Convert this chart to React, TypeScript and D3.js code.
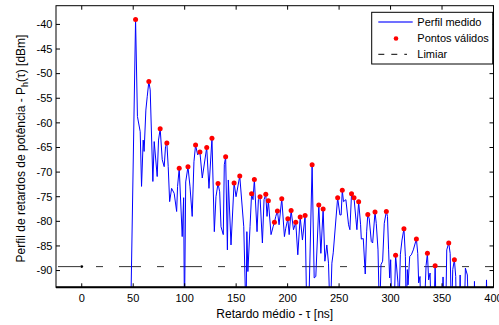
import React from "react";
import * as d3 from "d3";

// Measured power delay profile (delay in ns, power in dBm); -100 = below the visible range
const profileDelay = [
  47.5, 52.3, 54.1, 56.8, 58.1, 59.7, 60.6, 62.3, 63.6, 65.2, 66.5, 69.1, 70.4, 73.3, 74.6, 76.2,
  78.2, 80.1, 81.4, 82.7, 84.0, 85.4, 87.3, 89.8, 92.2, 93.1, 94.7, 97.6, 99.0, 99.8, 101.0, 103.2,
  105.2, 107.3, 109.0, 110.6, 112.6, 114.8, 117.1, 121.4, 123.6, 126.5, 128.8, 130.4, 132.4, 134.0,
  135.3, 137.5, 138.5, 139.8, 141.5, 142.4, 145.0, 148.0, 149.9, 153.5, 157.4, 159.6, 160.4, 161.4,
  163.5, 165.0, 166.4, 167.7, 170.3, 171.6, 173.2, 175.5, 177.1, 178.8, 180.0, 181.3, 183.9, 185.9,
  187.2, 188.5, 190.1, 191.7, 194.3, 196.9, 198.2, 200.2, 201.5, 203.4, 205.7, 207.9, 209.9, 212.2,
  214.4, 217.0, 218.7, 220.3, 223.8, 225.8, 227.4, 230.3, 232.3, 234.5, 236.2, 238.1, 239.7, 241.4,
  243.0, 244.3, 248.6, 250.8, 252.0, 253.1, 254.3, 256.6, 259.2, 260.5, 262.1, 264.5, 266.4, 267.3,
  269.0, 270.9, 271.6, 273.5, 275.4, 276.8, 277.9, 279.3, 281.3, 282.6, 284.9, 286.1, 287.8, 289.3,
  290.7, 292.3, 293.9, 295.9, 297.0, 298.1, 299.1, 300.1, 301.4, 303.2, 304.9, 307.2, 308.0, 309.5,
  311.1, 313.0, 314.4, 315.3, 316.3, 317.0, 318.6, 320.2, 322.1, 325.1, 326.4, 327.3, 328.6, 329.5,
  332.5, 334.5, 335.8, 337.0, 338.4, 339.5, 342.0, 343.3, 344.5, 349.5, 351.0, 352.2, 353.5, 354.6,
  356.5, 357.9, 359.2, 360.4, 362.0, 363.3, 364.0, 366.8, 367.6, 368.4, 371.5, 372.7, 374.6, 375.8,
  380.8, 381.5, 382.2, 392.5, 393.2, 394.0, 400.0,
];
const profilePower = [
  -100, -39.0, -58.7, -61.8, -72.9, -63.5, -65.8, -57.4, -54.7, -51.6, -53.3, -71.9, -63.8, -70.9, -63.5, -61.2,
  -67.5, -68.9, -64.8, -64.1, -68.9, -76.0, -73.3, -74.3, -78.0, -72.9, -69.2, -83.1, -75.2, -100, -72.0, -68.9,
  -73.0, -79.0, -67.9, -64.5, -66.5, -65.9, -71.2, -65.0, -73.3, -63.1, -82.1, -75.0, -72.3, -74.0,
  -81.1, -82.7, -68.5, -66.9, -85.8, -71.6, -84.8, -72.2, -75.0, -70.8, -81.1, -100, -82.1, -90.2,
  -81.1, -74.4, -75.6, -71.5, -82.1, -75.6, -75.0, -84.4, -75.6, -74.5, -79.0, -75.8, -82.7, -81.1,
  -80.2, -79.0, -77.9, -80.7, -75.4, -83.1, -81.4, -79.5, -82.7, -77.8, -81.7, -80.2, -86.8, -79.1,
  -83.8, -78.8, -100, -100, -68.5, -91.5, -91.2, -76.7, -86.5, -77.5, -88.1, -84.8, -88.5, -100,
  -88.5, -86.4, -75.2, -78.7, -78.7, -73.7, -76.0, -75.6, -80.7, -81.7, -74.4, -75.2, -79.7, -81.7,
  -76.0, -80.7, -83.6, -83.5, -90.7, -82.0, -78.6, -79.5, -84.1, -84.4, -78.1, -80.4, -85.8, -100,
  -88.8, -88.1, -80.4, -78.0, -79.0, -85.8, -91.5, -87.8, -100, -100, -86.9, -92.5, -100, -86.8,
  -83.8, -81.5, -87.1, -100, -89.8, -92.9, -87.1, -86.8, -85.8, -83.6, -86.5, -92.5, -91.2, -100,
  -100, -89.0, -86.5, -91.9, -90.5, -100, -100, -89.0, -100, -100, -91.3, -100, -100, -85.8,
  -84.4, -86.5, -100, -89.8, -87.8, -91.2, -100, -100, -90.9, -100, -100, -89.5, -90.9, -100,
  -100, -92.2, -100, -100, -91.9, -100, -100,
];

// Valid points (red markers)
const validDelay = [
  52.3, 65.2, 76.2, 82.7, 94.7, 103.2, 110.6, 114.8, 121.4, 126.5, 132.4, 139.8, 148.0, 153.5,
  165.0, 167.7, 173.2, 178.8, 181.3, 187.2, 190.1, 194.3, 200.2, 203.4, 207.9, 212.2, 217.0,
  223.8, 230.3, 234.5, 248.6, 253.1, 262.1, 264.5, 269.0, 277.9, 284.9, 295.9, 304.9, 313.0,
  325.1, 335.8, 343.3, 356.5, 362.0,
];
const validPower = [
  -39.0, -51.6, -61.2, -64.1, -69.2, -68.9, -64.5, -65.9, -65.0, -63.1, -72.3, -66.9, -72.2, -70.8,
  -74.4, -71.5, -75.0, -74.5, -75.8, -80.2, -77.9, -75.4, -79.5, -77.8, -80.2, -79.1, -78.8,
  -68.5, -76.7, -77.5, -75.2, -73.7, -74.4, -75.2, -76.0, -78.6, -78.1, -78.0, -86.9, -81.5,
  -83.6, -86.5, -89.0, -84.4, -87.8,
];

const thresholdDelay = [-25, 400];
const thresholdPower = -89.2;
const thresholdMarkDelay = 0;

const xTicks = [0, 50, 100, 150, 200, 250, 300, 350, 400];
const yTicks = [-90, -85, -80, -75, -70, -65, -60, -55, -50, -45, -40];

const legendLabels = ["Perfil medido", "Pontos válidos", "Limiar"];

const W = 499;
const H = 325;
const L = 56;
const R = 493.5;
const T = 5.7;
const B = 287.3;
const FONT = "'Liberation Sans', Arial, Helvetica, sans-serif";

export default function App() {
  const x = d3.scaleLinear().domain([-25, 400]).range([L, R]);
  const y = d3.scaleLinear().domain([-93.4, -36.2]).range([B, T]);

  const pts: [number, number][] = profileDelay.map((d, i) => [d, profilePower[i]]);
  const line = d3
    .line<[number, number]>()
    .x((d) => x(d[0]))
    .y((d) => y(d[1]));

  const tl = 4;
  const lx = 371.7;
  const ly = 12.3;
  const lw = 121;
  const lh = 51.7;

  return (
    <svg
      width={W}
      height={H}
      style={{ position: "absolute", left: 0, top: 0, background: "#fff" }}
      fontFamily={FONT}
    >
      <defs>
        <clipPath id="plotclip">
          <rect x={L} y={T} width={R - L} height={B - T} />
        </clipPath>
      </defs>
      <rect x={0} y={0} width={W} height={H} fill="#fff" />

      {/* threshold */}
      <g clipPath="url(#plotclip)">
        <line
          x1={x(thresholdDelay[0])}
          x2={x(thresholdDelay[1])}
          y1={y(thresholdPower)}
          y2={y(thresholdPower)}
          stroke="#333"
          strokeWidth={1}
          strokeDasharray="22 16 7 16"
          strokeDashoffset={59}
        />
        <circle cx={x(thresholdMarkDelay)} cy={y(thresholdPower)} r={1.4} fill="#000" />
        <path d={line(pts) || ""} fill="none" stroke="#0000ff" strokeWidth={1} strokeLinejoin="round" />
        {validDelay.map((d, i) => (
          <circle key={i} cx={x(d)} cy={y(validPower[i])} r={2.5} fill="#ff0000" />
        ))}
      </g>

      {/* box */}
      <rect x={L} y={T} width={R - L} height={B - T} fill="none" stroke="#000" strokeWidth={1} />
      <line x1={L} x2={R} y1={B} y2={B} stroke="#000" strokeWidth={2} />

      {/* x ticks */}
      {xTicks.map((t) => (
        <g key={"x" + t}>
          <line x1={x(t)} x2={x(t)} y1={B} y2={B - tl} stroke="#000" />
          <line x1={x(t)} x2={x(t)} y1={T} y2={T + tl} stroke="#000" />
          <text x={x(t)} y={301.5} fontSize={11} textAnchor="middle" fill="#000">
            {t}
          </text>
        </g>
      ))}
      {/* y ticks */}
      {yTicks.map((t) => (
        <g key={"y" + t}>
          <line x1={L} x2={L + tl} y1={y(t)} y2={y(t)} stroke="#000" />
          <line x1={R} x2={R - tl} y1={y(t)} y2={y(t)} stroke="#000" />
          <text x={52.5} y={y(t)} dy="0.35em" fontSize={11} textAnchor="end" fill="#000">
            {t}
          </text>
        </g>
      ))}

      {/* axis labels */}
      <text x={(L + R) / 2} y={318} fontSize={12} textAnchor="middle" fill="#000">
        Retardo médio - τ [ns]
      </text>
      <text
        transform={`translate(25,148.5) rotate(-90)`}
        fontSize={12}
        textAnchor="middle"
        fill="#000"
      >
        Perfil de retardos de potência - P
        <tspan dy={3} fontSize={9}>h</tspan>
        <tspan dy={-3}>(τ) [dBm]</tspan>
      </text>

      {/* legend */}
      <rect x={lx} y={ly} width={lw} height={lh} fill="#fff" stroke="#000" strokeWidth={1} />
      <line x1={378.3} x2={412.7} y1={22} y2={22} stroke="#7070ff" strokeWidth={2} />
      <circle cx={396} cy={38.5} r={2.3} fill="#ff0000" />
      <line x1={378.3} x2={407} y1={54.3} y2={54.3} stroke="#000" strokeWidth={1} strokeDasharray="6 7" />
      {legendLabels.map((lab, i) => (
        <text key={lab} x={417.3} y={22 + i * 16.2} dy="0.35em" fontSize={11} fill="#000">
          {lab}
        </text>
      ))}
    </svg>
  );
}
